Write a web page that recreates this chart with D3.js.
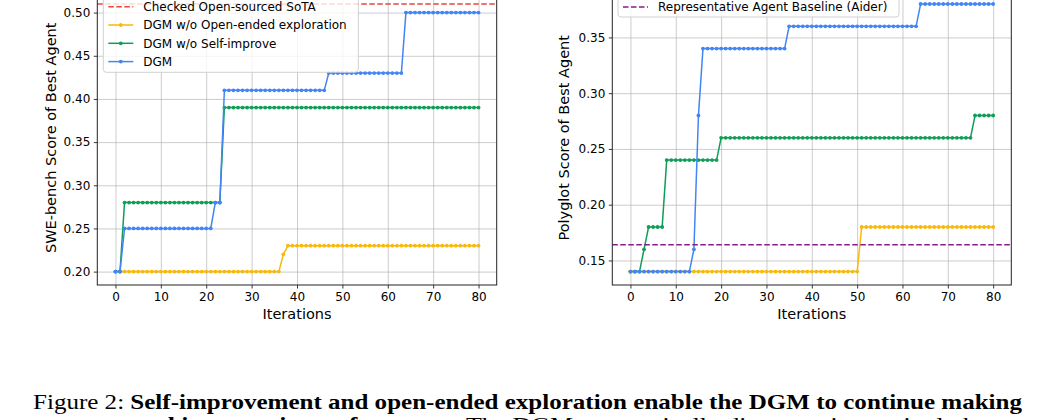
<!DOCTYPE html>
<html>
<head>
<meta charset="utf-8">
<script src="https://cdn.jsdelivr.net/npm/d3@7/dist/d3.min.js"></script>
<style>
    body { margin: 0; background: #fff; }
    svg { display: block; font-family: "DejaVu Sans", sans-serif; }
    .caption { font-family: "Liberation Serif", "Times New Roman", serif; }
</style>
</head>
<body>
<svg id="fig" width="1051" height="420"></svg>
<script>
// ---- data ----
const iterations = d3.range(0, 81);
const xTicks = [0, 10, 20, 30, 40, 50, 60, 70, 80];
const sweTicks = [0.20, 0.25, 0.30, 0.35, 0.40, 0.45, 0.50];
const polyTicks = [0.15, 0.20, 0.25, 0.30, 0.35];

const seriesNames = ["DGM w/o Open-ended exploration", "DGM w/o Self-improve", "DGM"];
const seriesColors = ["#F9B90A", "#0F9D58", "#4285F4"];

const sweSota = 0.51;
const sweSotaLabel = "Checked Open-sourced SoTA";
const polyAider = 0.164;
const polyAiderLabel = "Representative Agent Baseline (Aider)";

const sweNoOpen = [
    0.20, 0.20, 0.20, 0.20, 0.20, 0.20, 0.20, 0.20, 0.20, 0.20,
    0.20, 0.20, 0.20, 0.20, 0.20, 0.20, 0.20, 0.20, 0.20, 0.20,
    0.20, 0.20, 0.20, 0.20, 0.20, 0.20, 0.20, 0.20, 0.20, 0.20,
    0.20, 0.20, 0.20, 0.20, 0.20, 0.20, 0.20, 0.22, 0.23, 0.23,
    0.23, 0.23, 0.23, 0.23, 0.23, 0.23, 0.23, 0.23, 0.23, 0.23,
    0.23, 0.23, 0.23, 0.23, 0.23, 0.23, 0.23, 0.23, 0.23, 0.23,
    0.23, 0.23, 0.23, 0.23, 0.23, 0.23, 0.23, 0.23, 0.23, 0.23,
    0.23, 0.23, 0.23, 0.23, 0.23, 0.23, 0.23, 0.23, 0.23, 0.23,
    0.23
];
const sweNoSelf = [
    0.20, 0.20, 0.28, 0.28, 0.28, 0.28, 0.28, 0.28, 0.28, 0.28,
    0.28, 0.28, 0.28, 0.28, 0.28, 0.28, 0.28, 0.28, 0.28, 0.28,
    0.28, 0.28, 0.28, 0.28, 0.39, 0.39, 0.39, 0.39, 0.39, 0.39,
    0.39, 0.39, 0.39, 0.39, 0.39, 0.39, 0.39, 0.39, 0.39, 0.39,
    0.39, 0.39, 0.39, 0.39, 0.39, 0.39, 0.39, 0.39, 0.39, 0.39,
    0.39, 0.39, 0.39, 0.39, 0.39, 0.39, 0.39, 0.39, 0.39, 0.39,
    0.39, 0.39, 0.39, 0.39, 0.39, 0.39, 0.39, 0.39, 0.39, 0.39,
    0.39, 0.39, 0.39, 0.39, 0.39, 0.39, 0.39, 0.39, 0.39, 0.39,
    0.39
];
const sweDgm = [
    0.20, 0.20, 0.25, 0.25, 0.25, 0.25, 0.25, 0.25, 0.25, 0.25,
    0.25, 0.25, 0.25, 0.25, 0.25, 0.25, 0.25, 0.25, 0.25, 0.25,
    0.25, 0.25, 0.28, 0.28, 0.41, 0.41, 0.41, 0.41, 0.41, 0.41,
    0.41, 0.41, 0.41, 0.41, 0.41, 0.41, 0.41, 0.41, 0.41, 0.41,
    0.41, 0.41, 0.41, 0.41, 0.41, 0.41, 0.41, 0.43, 0.43, 0.43,
    0.43, 0.43, 0.43, 0.43, 0.43, 0.43, 0.43, 0.43, 0.43, 0.43,
    0.43, 0.43, 0.43, 0.43, 0.50, 0.50, 0.50, 0.50, 0.50, 0.50,
    0.50, 0.50, 0.50, 0.50, 0.50, 0.50, 0.50, 0.50, 0.50, 0.50,
    0.50
];

const polyNoOpen = [
    0.14, 0.14, 0.14, 0.14, 0.14, 0.14, 0.14, 0.14, 0.14, 0.14,
    0.14, 0.14, 0.14, 0.14, 0.14, 0.14, 0.14, 0.14, 0.14, 0.14,
    0.14, 0.14, 0.14, 0.14, 0.14, 0.14, 0.14, 0.14, 0.14, 0.14,
    0.14, 0.14, 0.14, 0.14, 0.14, 0.14, 0.14, 0.14, 0.14, 0.14,
    0.14, 0.14, 0.14, 0.14, 0.14, 0.14, 0.14, 0.14, 0.14, 0.14,
    0.14, 0.18, 0.18, 0.18, 0.18, 0.18, 0.18, 0.18, 0.18, 0.18,
    0.18, 0.18, 0.18, 0.18, 0.18, 0.18, 0.18, 0.18, 0.18, 0.18,
    0.18, 0.18, 0.18, 0.18, 0.18, 0.18, 0.18, 0.18, 0.18, 0.18,
    0.18
];
const polyNoSelf = [
    0.14, 0.14, 0.14, 0.16, 0.18, 0.18, 0.18, 0.18, 0.24, 0.24,
    0.24, 0.24, 0.24, 0.24, 0.24, 0.24, 0.24, 0.24, 0.24, 0.24,
    0.26, 0.26, 0.26, 0.26, 0.26, 0.26, 0.26, 0.26, 0.26, 0.26,
    0.26, 0.26, 0.26, 0.26, 0.26, 0.26, 0.26, 0.26, 0.26, 0.26,
    0.26, 0.26, 0.26, 0.26, 0.26, 0.26, 0.26, 0.26, 0.26, 0.26,
    0.26, 0.26, 0.26, 0.26, 0.26, 0.26, 0.26, 0.26, 0.26, 0.26,
    0.26, 0.26, 0.26, 0.26, 0.26, 0.26, 0.26, 0.26, 0.26, 0.26,
    0.26, 0.26, 0.26, 0.26, 0.26, 0.26, 0.28, 0.28, 0.28, 0.28,
    0.28
];
const polyDgm = [
    0.14, 0.14, 0.14, 0.14, 0.14, 0.14, 0.14, 0.14, 0.14, 0.14,
    0.14, 0.14, 0.14, 0.14, 0.16, 0.28, 0.34, 0.34, 0.34, 0.34,
    0.34, 0.34, 0.34, 0.34, 0.34, 0.34, 0.34, 0.34, 0.34, 0.34,
    0.34, 0.34, 0.34, 0.34, 0.34, 0.36, 0.36, 0.36, 0.36, 0.36,
    0.36, 0.36, 0.36, 0.36, 0.36, 0.36, 0.36, 0.36, 0.36, 0.36,
    0.36, 0.36, 0.36, 0.36, 0.36, 0.36, 0.36, 0.36, 0.36, 0.36,
    0.36, 0.36, 0.36, 0.36, 0.38, 0.38, 0.38, 0.38, 0.38, 0.38,
    0.38, 0.38, 0.38, 0.38, 0.38, 0.38, 0.38, 0.38, 0.38, 0.38,
    0.38
];

const captionLine1Lead = "Figure 2: ";
const captionLine1Bold = "Self-improvement and open-ended exploration enable the DGM to continue making";
const captionLine2Bold = "progress and improve its performance.";
const captionLine2Rest = " The DGM automatically discovers increasingly better";

// ---- drawing ----
const svg = d3.select("#fig");

function drawPanel(p) {
    const g = svg.append("g");
    const allVals = p.series.flat().concat([p.baseline]);
    const lo = d3.min(allVals), hi = d3.max(allVals);
    const pad = (hi - lo) * 0.05;

    const x = d3.scaleLinear().domain([-4, 84]).range([p.left, p.right]);
    const y = d3.scaleLinear().domain([lo - pad, hi + pad]).range([p.bottom, p.top]);

    // grid
    g.append("g")
        .attr("transform", `translate(0,${p.bottom})`)
        .call(d3.axisBottom(x).tickValues(xTicks).tickSize(-(p.bottom - p.top)).tickFormat(""))
        .call(a => a.select(".domain").remove())
        .call(a => a.selectAll("line").attr("stroke", "#b0b0b0").attr("stroke-opacity", 0.7).attr("stroke-width", 0.9));
    g.append("g")
        .attr("transform", `translate(${p.left},0)`)
        .call(d3.axisLeft(y).tickValues(p.yTicks).tickSize(-(p.right - p.left)).tickFormat(""))
        .call(a => a.select(".domain").remove())
        .call(a => a.selectAll("line").attr("stroke", "#b0b0b0").attr("stroke-opacity", 0.7).attr("stroke-width", 0.9));

    const clipId = "clip" + p.left;
    g.append("clipPath").attr("id", clipId)
        .append("rect")
        .attr("x", p.left).attr("y", p.top)
        .attr("width", p.right - p.left).attr("height", p.bottom - p.top);

    const plot = g.append("g").attr("clip-path", `url(#${clipId})`);

    // baseline drawn first when it is first in the legend
    const drawBaseline = function() {
        plot.append("line")
            .attr("x1", p.left).attr("x2", p.right)
            .attr("y1", y(p.baseline)).attr("y2", y(p.baseline))
            .attr("stroke", p.baselineColor)
            .attr("stroke-width", 1.5)
            .attr("stroke-dasharray", "5.5,2.5");
    };
    if (p.baselineFirst) drawBaseline();

    const line = d3.line().x((d, i) => x(iterations[i])).y(d => y(d));
    p.series.forEach(function(vals, k) {
        plot.append("path")
            .datum(vals)
            .attr("fill", "none")
            .attr("stroke", seriesColors[k])
            .attr("stroke-width", 1.5)
            .attr("d", line);
        plot.append("g").selectAll("circle")
            .data(vals)
            .join("circle")
            .attr("cx", (d, i) => x(iterations[i]))
            .attr("cy", d => y(d))
            .attr("r", 1.9)
            .attr("fill", seriesColors[k]);
    });

    if (!p.baselineFirst) drawBaseline();

    // axes
    const xAxis = g.append("g")
        .attr("transform", `translate(0,${p.bottom})`)
        .call(d3.axisBottom(x).tickValues(xTicks).tickSize(3.5).tickPadding(3.5).tickFormat(d3.format("d")));
    const yAxis = g.append("g")
        .attr("transform", `translate(${p.left},0)`)
        .call(d3.axisLeft(y).tickValues(p.yTicks).tickSize(3.5).tickPadding(3.5).tickFormat(d3.format(".2f")));
    [xAxis, yAxis].forEach(function(a) {
        a.select(".domain").remove();
        a.selectAll("line").attr("stroke", "#222").attr("stroke-width", 0.9);
        a.selectAll("text").attr("fill", "#000").style("font-size", "12px").style("font-family", "DejaVu Sans");
    });

    // spines
    g.append("rect")
        .attr("x", p.left).attr("y", p.top)
        .attr("width", p.right - p.left).attr("height", p.bottom - p.top)
        .attr("fill", "none").attr("stroke", "#222").attr("stroke-width", 1);

    g.append("text")
        .attr("x", (p.left + p.right) / 2).attr("y", 319)
        .attr("text-anchor", "middle")
        .style("font-size", "14.5px")
        .text("Iterations");
    g.append("text")
        .attr("transform", `translate(${p.left - p.yLabelOffset},${(p.top + p.bottom) / 2}) rotate(-90)`)
        .attr("text-anchor", "middle")
        .attr("dy", "0.35em")
        .style("font-size", "14.5px")
        .text(p.yLabel);

    // legend
    const lg = g.append("g");
    lg.append("rect")
        .attr("x", p.legend.x).attr("y", p.legend.y)
        .attr("width", p.legend.w).attr("height", p.legend.h)
        .attr("rx", 3)
        .attr("fill", "#fff").attr("fill-opacity", 0.8)
        .attr("stroke", "#cccccc").attr("stroke-width", 0.9);
    p.legend.items.forEach(function(it, i) {
        const cy = p.legend.firstY + i * 18.3;
        const hx = p.legend.x + 5;
        lg.append("line")
            .attr("x1", hx).attr("x2", hx + 25)
            .attr("y1", cy).attr("y2", cy)
            .attr("stroke", it.color).attr("stroke-width", 1.5)
            .attr("stroke-dasharray", it.dashed ? "5.5,2.5" : null);
        if (!it.dashed) {
            lg.append("circle").attr("cx", hx + 12.5).attr("cy", cy).attr("r", 1.9).attr("fill", it.color);
        }
        lg.append("text")
            .attr("x", hx + 35).attr("y", cy)
            .attr("dy", "0.35em")
            .style("font-size", "12px")
            .text(it.label);
    });
}

drawPanel({
    left: 97.3, right: 496.7, top: -9.4, bottom: 285,
    series: [sweNoOpen, sweNoSelf, sweDgm],
    baseline: sweSota, baselineColor: "#E8473C", baselineFirst: true,
    yTicks: sweTicks,
    yLabel: "SWE-bench Score of Best Agent", yLabelOffset: 46,
    legend: {
        x: 103.3, y: -4.5, w: 255, h: 76.8, firstY: 6.7,
        items: [
            {label: sweSotaLabel, color: "#E8473C", dashed: true},
            {label: seriesNames[0], color: seriesColors[0]},
            {label: seriesNames[1], color: seriesColors[1]},
            {label: seriesNames[2], color: seriesColors[2]}
        ]
    }
});

drawPanel({
    left: 612.3, right: 1011.3, top: -9.4, bottom: 285,
    series: [polyNoOpen, polyNoSelf, polyDgm],
    baseline: polyAider, baselineColor: "#8B1A8B", baselineFirst: false,
    yTicks: polyTicks,
    yLabel: "Polyglot Score of Best Agent", yLabelOffset: 48,
    legend: {
        x: 618, y: -5, w: 281, h: 22, firstY: 7,
        items: [
            {label: polyAiderLabel, color: "#8B1A8B", dashed: true}
        ]
    }
});

// caption (second line is cut by the page edge, as in the source)
const cap = svg.append("g").attr("class", "caption").style("font-size", "22px");
const l1 = cap.append("text")
    .attr("x", 33).attr("y", 409)
    .attr("textLength", 989).attr("lengthAdjust", "spacingAndGlyphs");
l1.append("tspan").text(captionLine1Lead);
l1.append("tspan").style("font-weight", "bold").text(captionLine1Bold);
const l2 = cap.append("text")
    .attr("x", 33).attr("y", 432)
    .attr("textLength", 989).attr("lengthAdjust", "spacingAndGlyphs");
l2.append("tspan").style("font-weight", "bold").text(captionLine2Bold);
l2.append("tspan").text(captionLine2Rest);
</script>
</body>
</html>
